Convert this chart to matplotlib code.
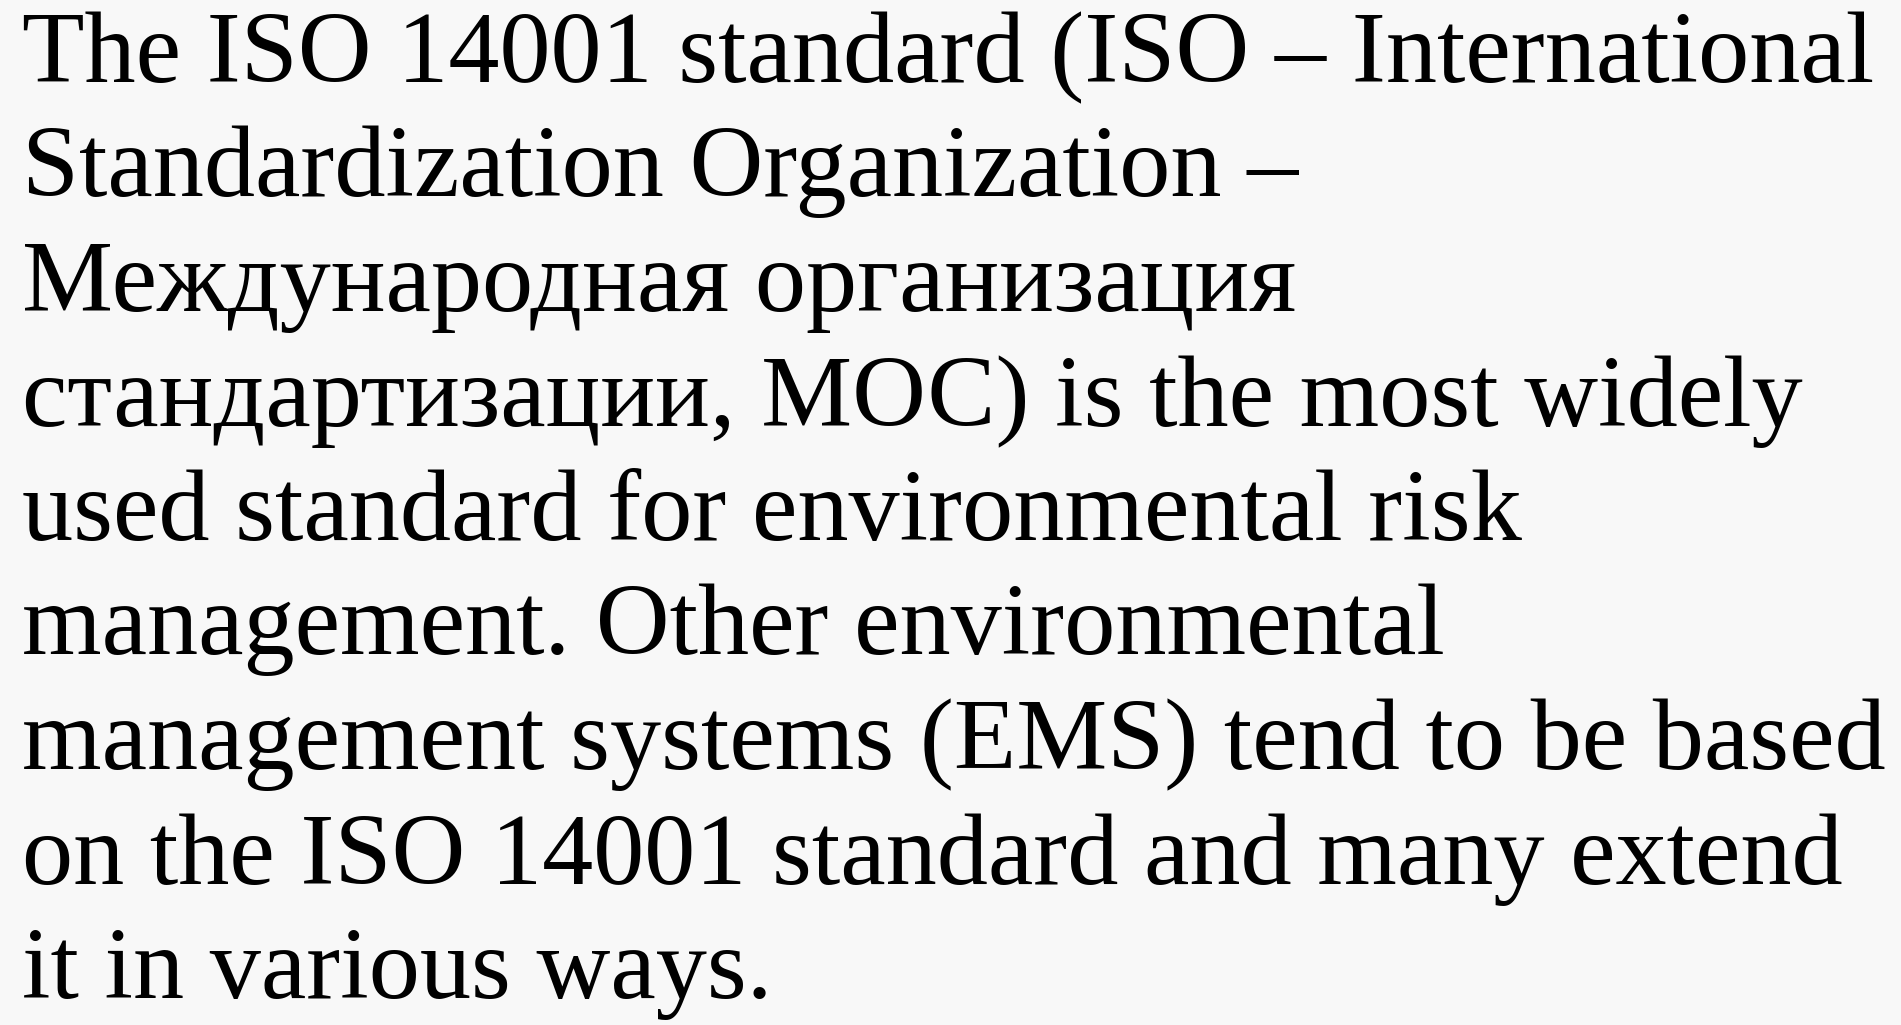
import matplotlib
matplotlib.use("Agg")
import matplotlib.pyplot as plt

lines = [
    "The ISO 14001 standard (ISO – International",
    "Standardization Organization –",
    "Международная организация",
    "стандартизации, МОС) is the most widely",
    "used standard for environmental risk",
    "management. Other environmental",
    "management systems (EMS) tend to be based",
    "on the ISO 14001 standard and many extend",
    "it in various ways.",
]

W, H = 1901, 1025
fig = plt.figure(figsize=(W / 100, H / 100), dpi=100)
fig.patch.set_facecolor("#f8f8f8")
ax = fig.add_axes([0, 0, 1, 1])
ax.set_xlim(0, W)
ax.set_ylim(H, 0)
ax.axis("off")
ax.set_facecolor("#f8f8f8")

family = "Liberation Serif"
x0 = 22
first_base = 82
step = 114.5
target_w = 1863  # width of the longest line in pixels

# fit the font size to the longest line
fig.canvas.draw()
r = fig.canvas.get_renderer()
probe = ax.text(0, 0, lines[6], fontsize=60, family=family)
w = probe.get_window_extent(renderer=r).width
probe.remove()
fs = 60 * target_w / w

for i, s in enumerate(lines):
    ax.text(x0, first_base + step * i, s, fontsize=fs, family=family,
            color="black", va="baseline", ha="left")

fig.savefig("out.png", dpi=100, facecolor=fig.get_facecolor())
